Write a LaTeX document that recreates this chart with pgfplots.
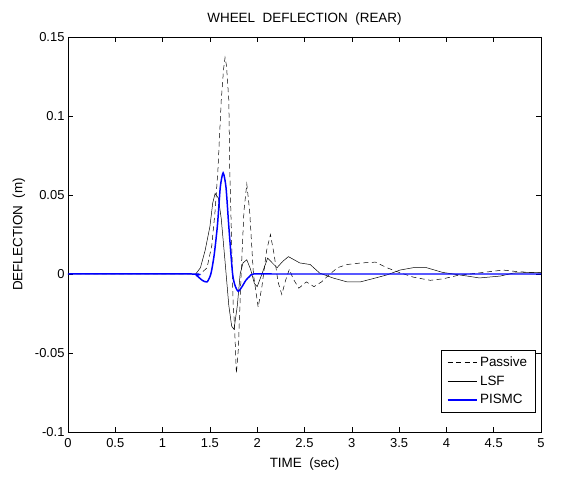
\documentclass[border=0pt]{standalone}
\usepackage{pgfplots}
\pgfplotsset{compat=1.18}
\usepackage{fontspec}
\setmainfont{Liberation Sans}
\begin{document}
\begin{tikzpicture}
\begin{axis}[
  name=ax,
  scale only axis,
  width=473bp, height=395bp,
  xmin=0, xmax=5, ymin=-0.1, ymax=0.15,
  xtick={0,0.5,...,5},
  xticklabels={0,0.5,1,1.5,2,2.5,3,3.5,4,4.5,5},
  ytick={-0.1,-0.05,0,0.05,0.1,0.15},
  yticklabels={-0.1,-0.05,0,0.05,0.1,0.15},
  tick align=inside,
  tick pos=both,
  major tick length=5bp,
  tick style={black, line width=0.5pt},
  axis line style={black, line width=0.6pt},
  font=\fontsize{13}{15}\selectfont,
  xticklabel style={yshift=-3bp},
  title={WHEEL\ \ DEFLECTION\ \ (REAR)},
  title style={font=\fontsize{13.5}{15}\selectfont, yshift=2bp},
  xlabel={TIME\ \ (sec)},
  ylabel={DEFLECTION\ \ (m)},
  xlabel style={font=\fontsize{13.5}{15}\selectfont, yshift=-3bp},
  ylabel style={font=\fontsize{13.5}{15}\selectfont, yshift=3bp},
  legend style={at={(0.988,0.05)}, anchor=south east, draw=black,
    font=\fontsize{13.5}{15}\selectfont, inner xsep=6bp, inner ysep=3bp,
    nodes={inner ysep=3.8bp}},
  legend cell align=left,
  legend image code/.code={\draw[#1] (0cm,0cm) -- (1.05cm,0cm);},
]
\addplot[black, line width=0.5pt, dash pattern=on 5bp off 3.5bp] coordinates {
(0,0) (1.40,0) (1.47,0.004) (1.52,0.018) (1.555,0.04) (1.585,0.066) (1.62,0.11)
(1.645,0.13) (1.66,0.137) (1.675,0.132) (1.70,0.11) (1.71,0.066) (1.73,0.02)
(1.745,-0.018) (1.76,-0.032) (1.78,-0.063) (1.80,-0.048) (1.83,0.0) (1.86,0.04)
(1.89,0.057) (1.92,0.04) (1.96,0.0) (2.01,-0.021) (2.05,-0.008) (2.10,0.015)
(2.14,0.025) (2.18,0.012) (2.22,-0.005) (2.26,-0.013) (2.30,-0.004) (2.34,0.003)
(2.38,-0.003) (2.44,-0.009) (2.52,-0.005) (2.60,-0.008) (2.68,-0.005) (2.75,-0.001)
(2.85,0.004) (2.95,0.006) (3.10,0.007) (3.25,0.0075) (3.37,0.004) (3.50,0.001)
(3.65,-0.002) (3.83,-0.004) (3.97,-0.003) (4.11,-0.001) (4.25,0.0) (4.39,0.001)
(4.60,0.0025) (4.75,0.0015) (5.0,0.0006)
};
\addlegendentry{Passive}
\addplot[black, line width=0.5pt] coordinates {
(0,0) (1.35,0) (1.40,0.004) (1.45,0.015) (1.50,0.030) (1.53,0.045) (1.555,0.051)
(1.59,0.048) (1.62,0.035) (1.66,0.008) (1.70,-0.02) (1.73,-0.033) (1.755,-0.035)
(1.79,-0.02) (1.82,0.0) (1.85,0.007) (1.89,0.009) (1.93,0.003) (1.97,-0.006)
(2.0,-0.008) (2.05,0.0) (2.11,0.010) (2.16,0.007) (2.21,0.004) (2.27,0.008)
(2.33,0.011) (2.45,0.007) (2.56,0.006) (2.66,0.0006) (2.80,-0.0025) (2.95,-0.005)
(3.09,-0.005) (3.22,-0.003) (3.37,-0.0006) (3.51,0.0025) (3.65,0.004) (3.79,0.004)
(3.96,0.001) (4.22,-0.0013) (4.35,-0.0025) (4.57,-0.0013) (4.71,0.0006) (4.92,0.001)
(5,0.001)
};
\addlegendentry{LSF}
\addplot[blue, line width=1.5pt, smooth, tension=0.4, legend image post style={line width=1.5pt}] coordinates {
(0,0) (1.31,0) (1.36,-0.001) (1.42,-0.004) (1.47,-0.005) (1.51,0.0) (1.545,0.012)
(1.58,0.031) (1.61,0.055) (1.64,0.064) (1.67,0.055) (1.70,0.030) (1.74,0.0)
(1.77,-0.008) (1.80,-0.011) (1.84,-0.008) (1.88,-0.004) (1.92,-0.0015) (1.96,0)
(2.2,0) (5,0)
};
\addlegendentry{PISMC}
\end{axis}
\pgfresetboundingbox
\path (ax.south west) ++(-68bp,-45bp) rectangle ++(576bp,477bp);
\end{tikzpicture}
\end{document}
